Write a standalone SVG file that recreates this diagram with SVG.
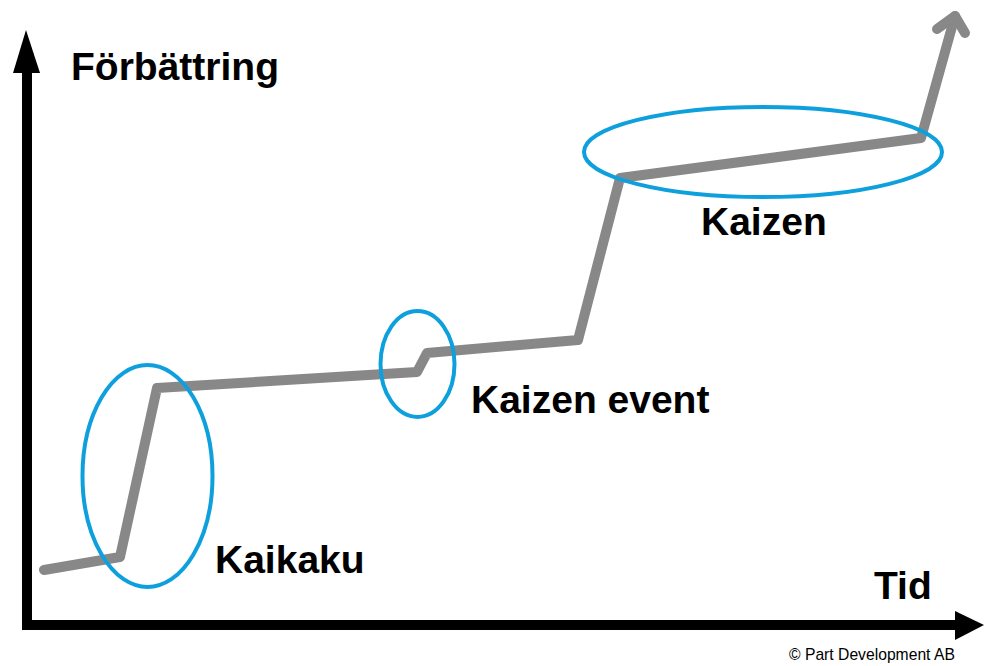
<svg xmlns="http://www.w3.org/2000/svg" width="984" height="666" viewBox="0 0 984 666">
<style>
.lbl{font-family:"Liberation Sans",Arial,sans-serif;font-weight:bold;font-size:39px;fill:#000}
.copy{font-family:"Liberation Sans",Arial,sans-serif;font-size:15.7px;fill:#000}
.axis{stroke:#000;stroke-width:10;fill:none}
.curve{stroke:#888;stroke-width:10;fill:none;stroke-linecap:round;stroke-linejoin:round}
.ring{stroke:#0EA0DD;stroke-width:4;fill:none}
</style>
<rect width="984" height="666" fill="#fff"/>
<g id="axes">
<path class="axis" d="M27,68 V625 H956"/>
<polygon points="26,30 13,73 40,73" fill="#000"/>
<polygon points="984,625 955,611 955,640" fill="#000"/>
</g>
<g id="connectors">
<path class="curve" d="M44,570 L120,557 L157,388 L417,372 L427,353 L578,340 L620,178 L921,138 L955,16"/>
<path class="curve" d="M937,29 L955,16 L965,33"/>
</g>
<g id="kaikaku">
<ellipse class="ring" cx="147.5" cy="476" rx="65" ry="111"/>
<text class="lbl" x="215" y="573">Kaikaku</text>
</g>
<g id="kaizen-event">
<ellipse class="ring" cx="417.5" cy="364" rx="37" ry="53"/>
<text class="lbl" x="471" y="413">Kaizen event</text>
</g>
<g id="kaizen">
<ellipse class="ring" cx="763" cy="152" rx="179" ry="45"/>
<text class="lbl" x="701" y="235">Kaizen</text>
</g>
<g id="labels">
<text class="lbl" x="71" y="80">Förbättring</text>
<text class="lbl" x="874" y="599">Tid</text>
<text class="copy" x="789" y="660">© Part Development AB</text>
</g>
</svg>
